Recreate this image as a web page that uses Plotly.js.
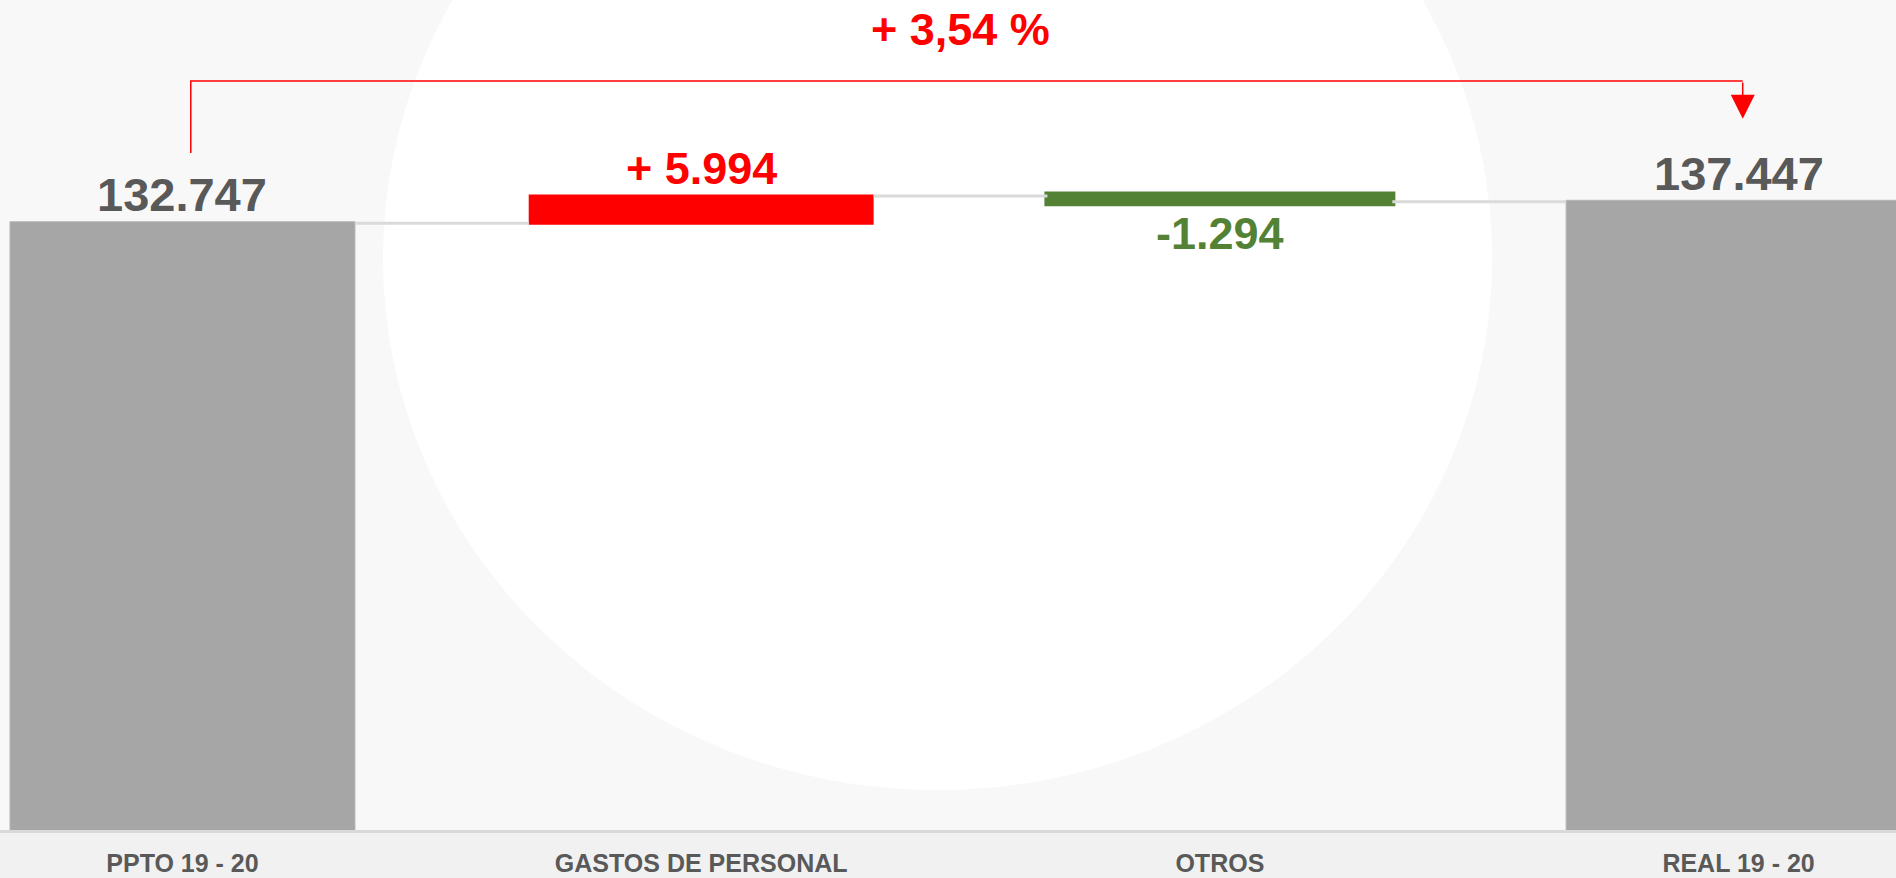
<!DOCTYPE html>
<html>
<head>
<meta charset="utf-8">
<script src="https://cdn.plot.ly/plotly-3.0.1.min.js"></script>
<style>
  html, body { margin: 0; padding: 0; background: #f2f2f2; }
  #chart { width: 1896px; height: 878px; }
</style>
</head>
<body>
<div id="chart"></div>
<script>
// ---- data ----
const categories = ['PPTO 19 - 20', 'GASTOS DE PERSONAL', 'OTROS', 'REAL 19 - 20'];
const measures = ['absolute', 'relative', 'relative', 'total'];
const values = [132747, 5994, -1294, 137447];
const valueLabels = ['132.747', '+ 5.994', '-1.294', '137.447'];
const changeLabel = '+ 3,54 %';

// ---- styles ----
const GRAY_BAR = '#a6a6a6';
const RED = '#ff0000';
const GREEN = '#548235';
const TEXT_GRAY = '#595959';
const FONT = '"Liberation Sans", Arial, sans-serif';

// running sums for label placement
const ends = [];
const starts = [];
let run = 0;
values.forEach((v, i) => {
  if (measures[i] === 'absolute') { starts.push(0); run = v; }
  else if (measures[i] === 'relative') { starts.push(run); run += v; }
  else { starts.push(0); }
  ends.push(run);
});

const trace = {
  type: 'waterfall',
  x: categories,
  y: values,
  measure: measures,
  width: 0.665,
  totals: { marker: { color: GRAY_BAR, line: { color: '#b5b5b5', width: 1 } } },
  increasing: { marker: { color: RED, line: { color: RED, width: 0 } } },
  decreasing: { marker: { color: GREEN, line: { color: GREEN, width: 6 } } },
  connector: { mode: 'between', line: { color: '#dadada', width: 3 } },
  hoverinfo: 'skip',
  showlegend: false
};

const annotations = [];
values.forEach((v, i) => {
  const isDown = measures[i] === 'relative' && v < 0;
  const top = Math.max(starts[i], ends[i]);
  const bottom = Math.min(starts[i], ends[i]);
  let color = TEXT_GRAY, size = 47;
  if (measures[i] === 'relative') { color = v >= 0 ? RED : GREEN; size = 45; }
  annotations.push({
    x: categories[i], xref: 'x',
    y: isDown ? bottom : top, yref: 'y',
    text: valueLabels[i],
    showarrow: false,
    yanchor: isDown ? 'top' : 'bottom',
    yshift: isDown ? -4 : 0,
    font: { family: FONT, size: size, color: color, weight: 'bold' }
  });
});

// percentage label
annotations.push({
  x: 1.5, xref: 'x', y: 0.965, yref: 'paper',
  text: changeLabel, showarrow: false, yanchor: 'middle',
  font: { family: FONT, size: 45, color: RED, weight: 'bold' }
});
// arrow into final bar
annotations.push({
  x: 3.008, y: 155600, xref: 'x', yref: 'y',
  ax: 3.008, ay: 163900, axref: 'x', ayref: 'y',
  text: '', showarrow: true, arrowhead: 2, arrowsize: 3.2, arrowwidth: 1.5,
  arrowcolor: RED, standoff: 0
});

const shapes = [
  // soft white disc in background
  { type: 'circle', xref: 'paper', yref: 'paper', layer: 'below',
    x0: 0.202, x1: 0.787, y0: 0.048, y1: 1.33,
    fillcolor: '#ffffff', line: { width: 0 } },
  // bracket
  { type: 'path', xref: 'x', yref: 'y', layer: 'above',
    path: 'M 0.016 148150 L 0.016 163900 L 3.008 163900',
    line: { color: RED, width: 1.5 } }
];

const layout = {
  width: 1896, height: 878,
  margin: { l: 0, r: 0, t: 0, b: 48, pad: 0 },
  paper_bgcolor: '#f1f1f1',
  plot_bgcolor: '#f8f8f8',
  showlegend: false,
  xaxis: {
    type: 'category',
    range: [-0.3518, 3.3035],
    showgrid: false, zeroline: false,
    showline: true, linecolor: '#d9d9d9', linewidth: 3,
    ticks: '', ticklabelstandoff: 9,
    tickfont: { family: FONT, size: 25, color: TEXT_GRAY, weight: 'bold' },
    automargin: false, fixedrange: true
  },
  yaxis: {
    range: [0, 181600],
    visible: false, showgrid: false, zeroline: false,
    automargin: false, fixedrange: true
  },
  annotations: annotations,
  shapes: shapes
};

Plotly.newPlot('chart', [trace], layout, { displayModeBar: false, staticPlot: true });
</script>
</body>
</html>
